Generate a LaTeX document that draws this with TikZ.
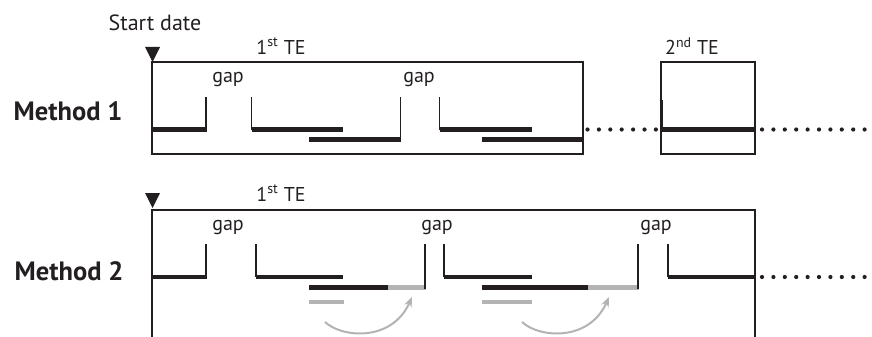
\documentclass[tikz,border=0pt]{standalone}
\usepackage{fontspec}
\setmainfont{PT Sans}
\usetikzlibrary{arrows.meta}
\definecolor{ink}{HTML}{231F20}
\definecolor{shade}{HTML}{B3B3B3}
\tikzset{
  frame/.style={draw=ink, line width=1.8pt},
  bar/.style={draw=ink, line width=4.6pt},
  tick/.style={draw=ink, line width=1.8pt},
  greybar/.style={draw=shade, line width=4.6pt},
  dots/.style={draw=ink, line width=4.2pt, line cap=round, dash pattern=on 0pt off 11.4pt},
  marker/.style={fill=ink, draw=none},
  lbl/.style={inner sep=0pt, font=\fontsize{20}{24}\selectfont, text=ink},
  big/.style={inner sep=0pt, font=\fontsize{26.5}{30}\selectfont\bfseries, text=ink},
  swap/.style={draw=shade, line width=2pt, -{Stealth[length=10pt,width=8pt]}},
}
\begin{document}
\begin{tikzpicture}[x=1pt,y=-1pt]
\useasboundingbox (0,0) rectangle (872,337);

% ---------- Method 1 ----------
\node[lbl, font=\fontsize{22}{26}\selectfont] (start) at (155,23) {Start date};
\fill[marker] (145,47) -- (160,47) -- (152.5,62) -- cycle;
\node[big] (m1) at (68,111) {Method 1};
\node[lbl] (te1a) at (281,46) {1\textsuperscript{st} TE};
\node[lbl] (te2) at (692,46) {2\textsuperscript{nd} TE};
\node[lbl] (g1) at (228,79) {gap};
\node[lbl] (g2) at (419,79) {gap};

\draw[frame] (152,62) rectangle (583,154);
\draw[frame] (661,62) rectangle (755,154);

% episodes
\draw[bar] (152,129.5) -- (206,129.5);
\draw[tick] (206,97) -- (206,131.5);
\draw[tick] (251.5,97) -- (251.5,129.5);
\draw[bar] (251.5,129.5) -- (343,129.5);
\draw[bar] (309,139.5) -- (400.5,139.5);
\draw[tick] (400.5,97) -- (400.5,141.5);
\draw[tick] (439.5,97) -- (439.5,129.5);
\draw[bar] (439.5,129.5) -- (532,129.5);
\draw[bar] (482,139.5) -- (583,139.5);
\draw[tick] (661.6,100) -- (661.6,129.5);
\draw[bar] (661,129.5) -- (755,129.5);

% continuation
\draw[dots] (587.5,129.5) -- (658,129.5);
\draw[dots] (762,129.5) -- (866,129.5);

% ---------- Method 2 ----------
\fill[marker] (145,193) -- (160,193) -- (152.5,208) -- cycle;
\node[big] (m2) at (69,271) {Method 2};
\node[lbl] (te1b) at (281,193) {1\textsuperscript{st} TE};
\node[lbl] (h1) at (228,227) {gap};
\node[lbl] (h2) at (437,227) {gap};
\node[lbl] (h3) at (656,227) {gap};

\draw[frame] (152,337) -- (152,210) -- (755,210) -- (755,337);

\draw[bar] (152,277) -- (206,277);
\draw[tick] (206,244) -- (206,279);
\draw[tick] (256,244) -- (256,277);
\draw[bar] (256,277) -- (343,277);
\draw[bar] (309,287.5) -- (388,287.5);
\draw[greybar] (388,287.5) -- (426,287.5);
\draw[tick] (425,244) -- (425,289);
\draw[greybar] (309,302) -- (344,302);

\draw[tick] (444,244) -- (444,277);
\draw[bar] (444,277) -- (532,277);
\draw[bar] (482,287.5) -- (588,287.5);
\draw[greybar] (588,287.5) -- (638.5,287.5);
\draw[tick] (638,244) -- (638,289);
\draw[greybar] (482,302) -- (532,302);

\draw[tick] (668,244) -- (668,277);
\draw[bar] (668,277) -- (755,277);
\draw[dots] (762,277) -- (866,277);

% shifted portions
\coordinate (a1s) at (325,322);
\coordinate (a1e) at (412,297);
\coordinate (a2s) at (522,322);
\coordinate (a2e) at (609,297);
\draw[swap] (a1s) .. controls (342,338) and (392,342) .. (a1e);
\draw[swap] (a2s) .. controls (539,338) and (589,342) .. (a2e);
\end{tikzpicture}
\end{document}
